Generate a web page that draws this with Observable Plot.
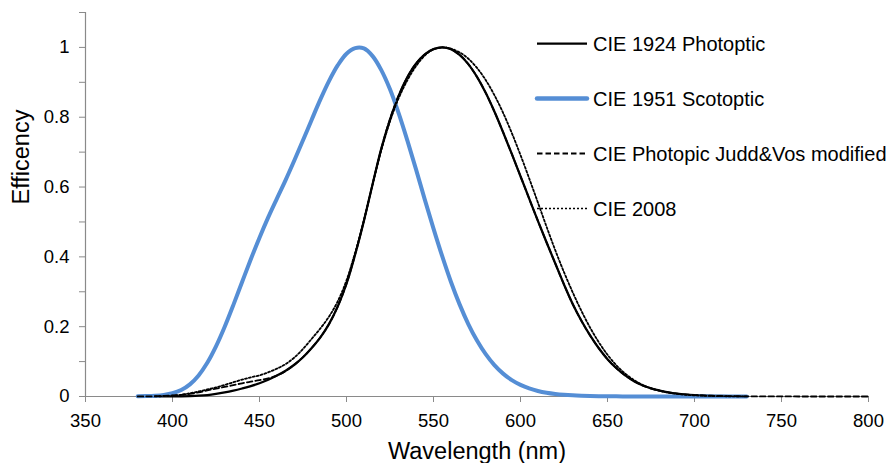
<!DOCTYPE html>
<html><head><meta charset="utf-8">
<script src="https://cdn.jsdelivr.net/npm/d3@7"></script>
<script src="https://cdn.jsdelivr.net/npm/@observablehq/plot@0.6"></script>
<style>
body{margin:0;background:#fff}
#chart{position:relative;width:893px;height:463px}
</style>
</head><body><div id="chart"></div>
<script>
// ---- data ----
const wavelengths = [380,385,390,395,400,405,410,415,420,425,430,435,440,445,450,455,460,465,470,475,480,485,490,495,500,505,510,515,520,525,530,535,540,545,550,555,560,565,570,575,580,585,590,595,600,605,610,615,620,625,630,635,640,645,650,655,660,665,670,675,680,685,690,695,700,705,710,715,720,725,730,735,740,745,750,755,760,765,770,775,780,785,790,795,800];

const seriesNames = ["CIE 1924 Photoptic","CIE 1951 Scotoptic","CIE Photopic Judd&Vos modified","CIE 2008"];
const seriesStart = [380, 380, 380, 390];

const photopic1924 = [0.000039,0.000064,0.00012,0.000217,0.000396,0.00064,0.00121,0.00218,0.004,0.0073,0.0116,0.01684,0.023,0.0298,0.038,0.048,0.06,0.0739,0.09098,0.1126,0.13902,0.1693,0.20802,0.2586,0.323,0.4073,0.503,0.6082,0.71,0.7932,0.862,0.91485,0.954,0.9803,0.99495,1.0,0.995,0.9786,0.952,0.9154,0.87,0.8163,0.757,0.6949,0.631,0.5668,0.503,0.4412,0.381,0.321,0.265,0.217,0.175,0.1382,0.107,0.0816,0.061,0.04458,0.032,0.0232,0.017,0.01192,0.00821,0.005723,0.004102,0.002929,0.002091,0.001484,0.001047,0.00074,0.00052];

const scotopic1951 = [0.000589,0.001108,0.002209,0.00453,0.00929,0.01852,0.03484,0.0604,0.0966,0.1436,0.1998,0.2625,0.328,0.3931,0.455,0.513,0.567,0.62,0.676,0.734,0.793,0.851,0.904,0.949,0.982,0.998,0.997,0.975,0.935,0.88,0.811,0.733,0.65,0.564,0.481,0.402,0.3288,0.2639,0.2076,0.1602,0.1212,0.0899,0.0655,0.0469,0.03315,0.0231,0.01593,0.01088,0.00737,0.00497,0.003335,0.002235,0.0015,0.001005,0.000677,0.000459,0.000313,0.000215,0.000148,0.000103,0.0000715,0.00005,0.0000353,0.000025,0.0000178,0.0000126,0.00000914,0.0000066,0.00000478,0.00000348,0.000002546];

const juddVos = [0.0002,0.00039556,0.0008,0.0015457,0.0028,0.0046562,0.0073744,0.011779,0.0175,0.022678,0.0273,0.032584,0.0379,0.042391,0.0468,0.052122,0.06,0.072942,0.09098,0.11284,0.13902,0.16987,0.20802,0.25808,0.323,0.40731,0.503,0.60811,0.71,0.7951,0.862,0.91505,0.954,0.98004,0.99495,1.0001,0.995,0.97875,0.952,0.91558,0.87,0.81623,0.757,0.69483,0.631,0.56654,0.503,0.44172,0.381,0.32052,0.265,0.21702,0.175,0.13812,0.107,0.081652,0.061,0.044327,0.032,0.023454,0.017,0.011872,0.00821,0.0057723,0.004102,0.0029291,0.002091,0.0014822,0.001047,0.00074015,0.00052,0.00036093,0.0002492,0.00017231,0.00012,0.0000849,0.00006,0.0000424,0.00003,0.0000212,0.000015,0.0000106,0.0000075,0.0000053,0.0000037];

const cie2008 = [0.00041466,0.0010594,0.0024533,0.004976,0.0090883,0.01429,0.020335,0.026112,0.03319,0.040849,0.048468,0.054878,0.060671,0.069016,0.079838,0.092731,0.11151,0.13634,0.16524,0.1952,0.22923,0.27293,0.33268,0.41286,0.50573,0.60799,0.70548,0.78822,0.85475,0.90604,0.94657,0.97678,0.99468,0.99991,0.99626,0.98566,0.96765,0.9413,0.90648,0.86341,0.81261,0.75478,0.69171,0.62469,0.55563,0.48609,0.41884,0.35617,0.2985,0.24523,0.19738,0.15544,0.11962,0.089915,0.066139,0.047707,0.033784,0.023545,0.016188,0.011025,0.0074446,0.0049902,0.0033252,0.0022063,0.0014594,0.00096301,0.00063532,0.00041959,0.00027696];

const xTicks = [350,400,450,500,550,600,650,700,750,800];
const yLabelTicks = [0,0.2,0.4,0.6,0.8,1];
const yMinorTicks = [0,0.1,0.2,0.3,0.4,0.5,0.6,0.7,0.8,0.9,1,1.1];
const xTitle = "Wavelength (nm)";
const yTitle = "Efficency";

// ---- styles ----
const styles = [
  {stroke: "#000000", strokeWidth: 2.25, dash: null, legendWidth: 2.25},
  {stroke: "#558ED5", strokeWidth: 4, dash: null, legendWidth: 4.5},
  {stroke: "#000000", strokeWidth: 1.8, dash: "5.5,3", legendWidth: 1.8},
  {stroke: "#000000", strokeWidth: 1.8, dash: "2,2", legendWidth: 1.6}
];
const seriesValues = [photopic1924, scotopic1951, juddVos, cie2008];

function rows(values, start) {
  const off = wavelengths.indexOf(start);
  return values.map((v, i) => ({nm: wavelengths[off + i], v}));
}

const gray = "#8a8a8a";
const font = "'Liberation Sans', Arial, sans-serif";

const lineMarks = seriesValues.map((vals, k) =>
  Plot.line(rows(vals, seriesStart[k]), {
    x: "nm", y: "v",
    stroke: styles[k].stroke,
    strokeWidth: styles[k].strokeWidth,
    strokeDasharray: styles[k].dash,
    strokeLinejoin: "round",
    curve: "catmull-rom"
  })
);

const chart = Plot.plot({
  width: 893,
  height: 463,
  marginLeft: 85,
  marginRight: 25,
  marginTop: 12,
  marginBottom: 67,
  style: {fontFamily: font, fontSize: "18.5px", color: "#000", background: "#fff"},
  x: {domain: [350, 800]},
  y: {domain: [0, 1.1]},
  marks: [
    Plot.axisY({ticks: yMinorTicks, tickSize: 6, tickFormat: () => "", stroke: gray, label: null}),
    Plot.axisY({ticks: yLabelTicks, tickSize: 0, tickPadding: 16, tickFormat: d => String(d), label: null, fontSize: 18.5}),
    Plot.axisX({ticks: xTicks, tickSize: 6, tickPadding: 11, stroke: gray, label: null, fontSize: 18.5}),
    Plot.ruleX([350], {stroke: gray, strokeWidth: 1.2}),
    Plot.ruleY([0], {stroke: gray, strokeWidth: 1.2}),
    ...lineMarks,
    Plot.text([xTitle], {text: d => d, frameAnchor: "bottom", lineAnchor: "top", dy: 46, fontSize: 23.5, fill: "#000"}),
    Plot.text([yTitle], {text: d => d, frameAnchor: "left", rotate: -90, dx: -64, fontSize: 23.5, fill: "#000"})
  ]
});

document.getElementById("chart").appendChild(chart);

// ---- legend (inside the plot area, top right) ----
const svg = d3.select(chart);
const lg = svg.append("g")
  .attr("font-family", font)
  .attr("font-size", 20)
  .attr("text-anchor", "start");
seriesNames.forEach((name, k) => {
  const y = 43.5 + 55 * k;
  lg.append("line")
    .attr("x1", 537).attr("x2", 587).attr("y1", y).attr("y2", y)
    .attr("stroke", styles[k].stroke)
    .attr("stroke-width", styles[k].legendWidth)
    .attr("stroke-dasharray", styles[k].dash)
    .attr("stroke-linecap", k === 1 ? "round" : "butt");
  lg.append("text")
    .attr("x", 593).attr("y", y).attr("dy", "0.35em")
    .attr("text-anchor", "start")
    .attr("fill", "#000")
    .text(name);
});
</script>
</body></html>
